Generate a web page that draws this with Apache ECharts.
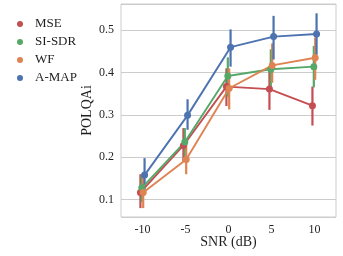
<!DOCTYPE html>
<html>
<head>
<meta charset="utf-8">
<script src="https://cdn.jsdelivr.net/npm/echarts@6/dist/echarts.min.js"></script>
<style>html,body{margin:0;padding:0;background:#fff}#c{width:343px;height:256px}</style>
</head>
<body>
<div id="c"></div>
<script>
const snr = [-10, -5, 0, 5, 10];
const xTickLabels = ['-10', '-5', '0', '5', '10'];
const methods = ['MSE', 'SI-SDR', 'WF', 'A-MAP'];

const mseMean = [0.117, 0.228, 0.367, 0.361, 0.322];
const mseLow  = [0.080, 0.190, 0.321, 0.312, 0.275];
const mseHigh = [0.160, 0.269, 0.410, 0.410, 0.367];

const sisdrMean = [0.128, 0.236, 0.392, 0.408, 0.414];
const sisdrLow  = [0.095, 0.200, 0.343, 0.363, 0.365];
const sisdrHigh = [0.158, 0.269, 0.436, 0.455, 0.463];

const wfMean = [0.117, 0.195, 0.363, 0.417, 0.435];
const wfLow  = [0.080, 0.160, 0.313, 0.376, 0.383];
const wfHigh = [0.155, 0.235, 0.410, 0.469, 0.483];

const amapMean = [0.158, 0.299, 0.460, 0.485, 0.491];
const amapLow  = [0.120, 0.265, 0.414, 0.431, 0.442];
const amapHigh = [0.198, 0.337, 0.502, 0.534, 0.540];

const colors = ['#c44e52', '#55a868', '#dd8452', '#4c72b0'];
const dodge = [-0.24, -0.08, 0.08, 0.24];
const means = [mseMean, sisdrMean, wfMean, amapMean];
const lows = [mseLow, sisdrLow, wfLow, amapLow];
const highs = [mseHigh, sisdrHigh, wfHigh, amapHigh];

const font = "'Liberation Serif', 'Times New Roman', serif";
const txt = '#1f1f1f';

const series = [];
methods.forEach((m, i) => {
  series.push({
    name: m + ' err',
    type: 'custom',
    xAxisIndex: 1,
    silent: true,
    data: snr.map((s, k) => [s + dodge[i], lows[i][k], highs[i][k]]),
    renderItem: function (params, api) {
      const p1 = api.coord([api.value(0), api.value(1)]);
      const p2 = api.coord([api.value(0), api.value(2)]);
      return {
        type: 'line',
        shape: { x1: p1[0], y1: p1[1], x2: p2[0], y2: p2[1] },
        style: { stroke: colors[i], lineWidth: 2.2 }
      };
    }
  });
  series.push({
    name: m,
    type: 'line',
    xAxisIndex: 1,
    data: snr.map((s, k) => [s + dodge[i], means[i][k]]),
    symbol: 'circle',
    symbolSize: 7,
    lineStyle: { color: colors[i], width: 1.9 },
    itemStyle: { color: colors[i] },
    emphasis: { disabled: true }
  });
});

const chart = echarts.init(document.getElementById('c'), null, { renderer: 'canvas' });
chart.setOption({
  animation: false,
  backgroundColor: '#ffffff',
  grid: { left: 121, top: 4, right: 7, bottom: 39, show: true, borderColor: '#cccccc', borderWidth: 1 },
  legend: {
    data: methods,
    orient: 'vertical',
    left: 12,
    top: 12,
    icon: 'circle',
    itemWidth: 20,
    itemHeight: 6,
    itemGap: 4,
    textStyle: { fontFamily: font, fontSize: 13, color: txt, lineHeight: 14 },
    selectedMode: false
  },
  xAxis: [
    {
      type: 'category',
      data: xTickLabels,
      boundaryGap: true,
      name: 'SNR (dB)',
      nameLocation: 'middle',
      nameGap: 18,
      nameMoveOverlap: false,
      nameTextStyle: { fontFamily: font, fontSize: 14, color: txt },
      axisLine: { show: false },
      axisTick: { show: false },
      axisLabel: { fontFamily: font, fontSize: 12, color: txt, margin: 7 },
      splitLine: { show: false }
    },
    {
      type: 'value',
      min: -12.5,
      max: 12.5,
      show: false
    }
  ],
  yAxis: {
    type: 'value',
    min: 0.059,
    max: 0.562,
    name: 'POLQAi',
    nameLocation: 'middle',
    nameGap: 27,
    nameMoveOverlap: false,
    nameTextStyle: { fontFamily: font, fontSize: 14, color: txt },
    axisLine: { show: false },
    axisTick: { show: false },
    axisLabel: { fontFamily: font, fontSize: 12, color: txt, margin: 7, showMinLabel: false, showMaxLabel: false,
      formatter: v => v.toFixed(1) },
    splitLine: { show: true, lineStyle: { color: '#cccccc', width: 1 } }
  },
  series: series
});
</script>
</body>
</html>
